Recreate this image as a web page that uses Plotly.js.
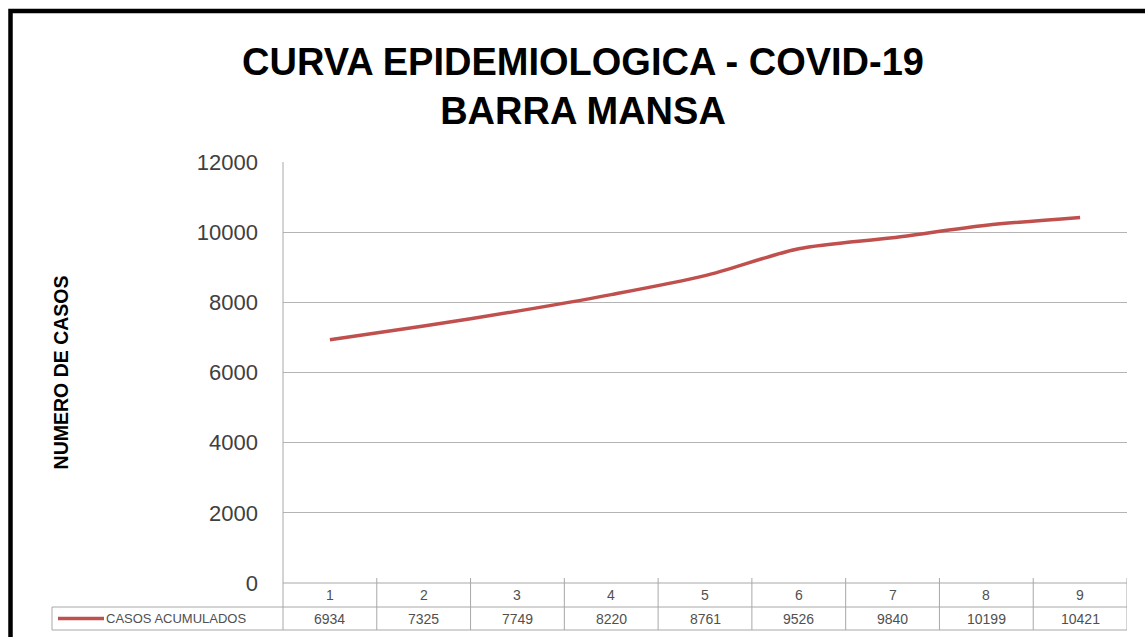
<!DOCTYPE html>
<html>
<head>
<meta charset="utf-8">
<script src="https://cdn.plot.ly/plotly-3.0.1.min.js"></script>
<style>
  html, body { margin: 0; padding: 0; background: #ffffff; }
  #chart { width: 1145px; height: 637px; }
</style>
</head>
<body>
<div id="chart"></div>
<script>
// ---- data ----
const categories = ['1', '2', '3', '4', '5', '6', '7', '8', '9'];
const casosAcumulados = [6934, 7325, 7749, 8220, 8761, 9526, 9840, 10199, 10421];
const seriesName = 'CASOS ACUMULADOS';
const yTickValues = [0, 2000, 4000, 6000, 8000, 10000, 12000];
const yTickLabels = ['0', '2000', '4000', '6000', '8000', '10000', '12000'];
const chartTitle = 'CURVA EPIDEMIOLOGICA - COVID-19<br>BARRA MANSA';
const yTitle = 'NUMERO DE CASOS';

// ---- geometry (pixels) ----
const W = 1145, H = 637;
const L = 283, R = 1127, T = 162, B = 583;
const rowMid = 607, tableBottom = 630, legendLeft = 52;
const px = x => (x - L) / (R - L);
const py = y => (B - y) / (B - T);

const lineColor = '#c0504d';
const gridColor = '#b4b4b4';
const tableColor = '#a8a8a8';
const textGray = '#505050';
const narrow = '"Liberation Sans Narrow", "Arial Narrow", "Liberation Sans", sans-serif';
const arial = '"Liberation Sans", Arial, sans-serif';

const trace = {
  type: 'scatter',
  mode: 'lines',
  name: seriesName,
  x: categories,
  y: casosAcumulados,
  line: { color: lineColor, width: 3.5, shape: 'spline', smoothing: 0.8 },
  hoverinfo: 'x+y'
};

const shapes = [];
// outer black frame (left + top)
shapes.push({
  type: 'path', xref: 'paper', yref: 'paper',
  path: `M ${px(10.5)} ${py(H + 20)} L ${px(10.5)} ${py(11)} L ${px(W + 20)} ${py(11)}`,
  line: { color: '#000000', width: 4.5 }
});
// y axis line extended through the table
shapes.push({ type: 'line', xref: 'paper', yref: 'paper', x0: 0, x1: 0, y0: py(tableBottom), y1: 1, line: { color: tableColor, width: 1 } });
// table horizontal lines
shapes.push({ type: 'line', xref: 'paper', yref: 'paper', x0: 0, x1: 1, y0: 0, y1: 0, line: { color: tableColor, width: 1 } });
shapes.push({ type: 'line', xref: 'paper', yref: 'paper', x0: px(legendLeft), x1: 1, y0: py(rowMid), y1: py(rowMid), line: { color: tableColor, width: 1 } });
shapes.push({ type: 'line', xref: 'paper', yref: 'paper', x0: px(legendLeft), x1: 1, y0: py(tableBottom), y1: py(tableBottom), line: { color: tableColor, width: 1 } });
// legend cell left edge
shapes.push({ type: 'line', xref: 'paper', yref: 'paper', x0: px(legendLeft), x1: px(legendLeft), y0: py(rowMid), y1: py(tableBottom), line: { color: tableColor, width: 1 } });
// column separators
for (let i = 0; i < categories.length; i++) {
  shapes.push({ type: 'line', xref: 'x', yref: 'paper', x0: i + 0.5, x1: i + 0.5, y0: py(tableBottom), y1: py(B - 5), line: { color: tableColor, width: 1 } });
}
// legend key line
shapes.push({ type: 'line', xref: 'paper', yref: 'paper', x0: px(58), x1: px(104), y0: py(618.5), y1: py(618.5), line: { color: lineColor, width: 3.5 } });

const annotations = [];
categories.forEach((c, i) => {
  annotations.push({ xref: 'x', yref: 'paper', x: i, y: py(595), text: c, showarrow: false,
    xanchor: 'center', yanchor: 'middle', font: { family: arial, size: 14, color: textGray } });
  annotations.push({ xref: 'x', yref: 'paper', x: i, y: py(618.5), text: String(casosAcumulados[i]), showarrow: false,
    xanchor: 'center', yanchor: 'middle', font: { family: arial, size: 14, color: textGray } });
});
annotations.push({ xref: 'paper', yref: 'paper', x: px(248), y: py(618.5), text: seriesName, showarrow: false,
  xanchor: 'right', yanchor: 'middle', font: { family: arial, size: 13, color: textGray } });

const layout = {
  width: W, height: H,
  margin: { l: L, r: W - R, t: T, b: H - B, pad: 0 },
  paper_bgcolor: '#ffffff', plot_bgcolor: '#ffffff',
  showlegend: false,
  title: {
    text: chartTitle,
    x: 583 / W, xanchor: 'center', xref: 'container',
    y: 1 - 75 / H, yanchor: 'top', yref: 'container',
    font: { family: narrow, size: 38, color: '#000000', weight: 'bold' }
  },
  xaxis: {
    type: 'category', range: [-0.5, categories.length - 0.5],
    showticklabels: false, showgrid: false, zeroline: false, showline: false, ticks: '',
    fixedrange: true
  },
  yaxis: {
    range: [0, 12000], tickmode: 'array', tickvals: yTickValues, ticktext: yTickLabels,
    showgrid: true, gridcolor: gridColor, gridwidth: 1,
    zeroline: false, showline: false, ticks: '',
    ticklabelstandoff: 24,
    tickfont: { family: arial, size: 22, color: '#404040' },
    title: { text: yTitle, standoff: 122, font: { family: narrow, size: 19.5, color: '#000000', weight: 'bold' } },
    automargin: false, fixedrange: true
  },
  shapes: shapes,
  annotations: annotations
};

Plotly.newPlot('chart', [trace], layout, { displayModeBar: false, staticPlot: false });
</script>
</body>
</html>
